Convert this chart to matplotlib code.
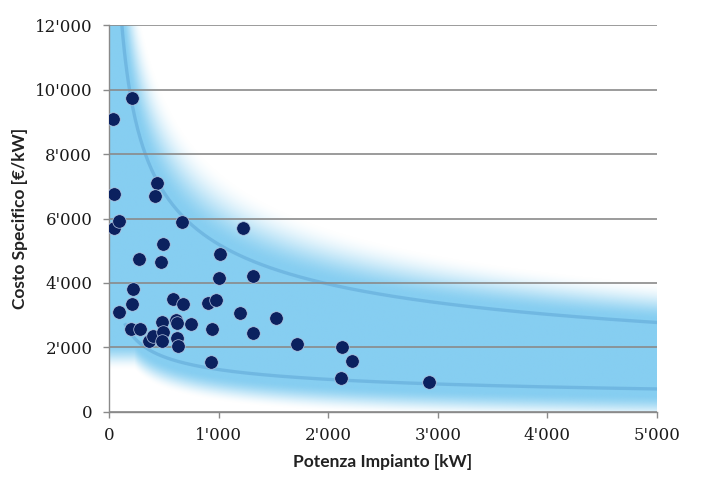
import numpy as np
import matplotlib
matplotlib.use('Agg')
import matplotlib.pyplot as plt
from matplotlib.ticker import FuncFormatter

# plant power [kW] and specific cost [EUR/kW]
potenza_kw = [36, 207, 48, 45, 91, 441, 420, 666, 1219, 496, 474, 274, 1013, 1004, 1317,
              222, 207, 91, 587, 678, 906, 973, 1195, 1521, 201, 283, 487, 611, 617, 745,
              937, 1317, 368, 398, 496, 487, 617, 633, 1712, 2123, 2214, 931, 2114, 2923]
costo_kw = [9085, 9750, 6760, 5700, 5920, 7090, 6700, 5880, 5715, 5210, 4660, 4740, 4890, 4145, 4225,
            3800, 3350, 3110, 3500, 3350, 3370, 3470, 3080, 2925, 2580, 2560, 2800, 2850, 2770, 2730,
            2560, 2440, 2200, 2360, 2470, 2200, 2300, 2050, 2100, 2025, 1580, 1560, 1045, 940]

# envelope curves (power law, cost = a * (kW/1000)^b)
up_a, up_b = 5200, -0.39
lo_a, lo_b = 1316, -0.38
lo_cap = 2300

x_ticks = [0, 1000, 2000, 3000, 4000, 5000]
y_ticks = [0, 2000, 4000, 6000, 8000, 10000, 12000]


def upper(x):
    return up_a * (x / 1000.0) ** up_b


def lower(x):
    return lo_a * (x / 1000.0) ** lo_b


def smooth(t):
    t = np.clip(t, 0, 1)
    return t * t * (3 - 2 * t)


def fmt(v, pos):
    return "{:,}".format(int(v)).replace(",", "'")


fig = plt.figure(figsize=(7.05, 4.84), dpi=100)
ax = fig.add_axes([0.1546, 0.1488, 0.7773, 0.7995])

# blue band background
gx = np.linspace(1, 5000, 700)
gy = np.linspace(1, 12000, 600)
X, Y = np.meshgrid(gx, gy)
up = upper(X)
lo = np.minimum(lower(X), lo_cap)
a_up = 1 - smooth((np.log(Y / up) - 0.03) / 0.34)
a_lo = 1 - smooth((lo - 200 - Y) / 800)
alpha = np.minimum(a_up, a_lo)
img = np.zeros(X.shape + (4,))
img[..., 0] = 134 / 255
img[..., 1] = 206 / 255
img[..., 2] = 241 / 255
img[..., 3] = alpha
ax.imshow(img, extent=[0, 5000, 0, 12000], origin='lower', aspect='auto',
          interpolation='bilinear', zorder=0)

xs = np.linspace(115, 5000, 400)
ax.plot(xs, upper(xs), color='#5fa6d6', lw=2.4, alpha=0.55, zorder=2)
xs = np.linspace(150, 5000, 400)
ax.plot(xs, lower(xs), color='#5fa6d6', lw=2.4, alpha=0.55, zorder=2)

ax.scatter(potenza_kw, costo_kw, s=95, color='#0b215f', edgecolors='#b9c9e3',
           linewidths=0.5, zorder=4)

ax.set_xlim(0, 5000)
ax.set_ylim(0, 12000)
ax.set_xticks(x_ticks)
ax.set_yticks(y_ticks)
ax.xaxis.set_major_formatter(FuncFormatter(fmt))
ax.yaxis.set_major_formatter(FuncFormatter(fmt))
ax.grid(axis='y', color='#8a8a8a', lw=1.2, zorder=1)
ax.set_axisbelow(False)
for s in ['top', 'right']:
    ax.spines[s].set_visible(False)
for s in ['left', 'bottom']:
    ax.spines[s].set_color('#8a8a8a')
    ax.spines[s].set_linewidth(1.0)
ax.tick_params(axis='both', color='#8a8a8a', length=4, width=1.0, labelcolor='#1a1a1a')
ax.tick_params(axis='x', pad=7)
ax.tick_params(axis='y', pad=8)
for lab in ax.get_xticklabels() + ax.get_yticklabels():
    lab.set_family('DejaVu Serif')
    lab.set_fontsize(12)

ax.set_xlabel('Potenza Impianto [kW]', family='Lato', fontweight='bold', fontsize=12.5,
              color='#222222', labelpad=7)
ax.set_ylabel('Costo Specifico [€/kW]', family='Lato', fontweight='bold', fontsize=12.5,
              color='#222222', labelpad=5)

fig.savefig('out.png', dpi=100)
